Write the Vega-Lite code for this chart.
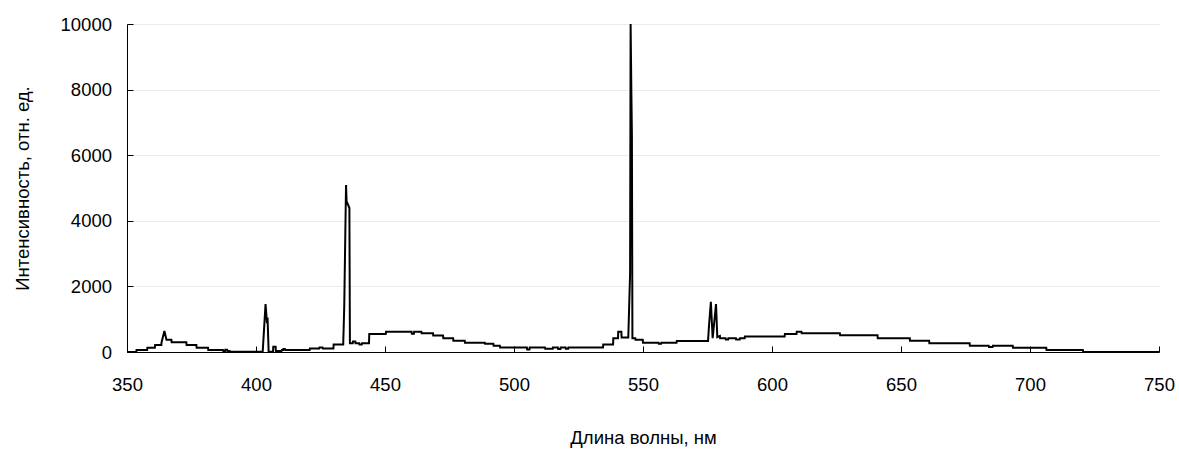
{
  "$schema": "https://vega.github.io/schema/vega-lite/v6.json",
  "autosize": {"type": "none"},
  "padding": {"left": 127, "top": 24, "right": 20, "bottom": 98},
  "width": 1032,
  "height": 328,
  "background": "white",
  "config": {
    "font": "Liberation Sans",
    "view": {"stroke": null},
    "axis": {
      "labelFont": "Liberation Sans",
      "titleFont": "Liberation Sans",
      "labelFontSize": 18.5,
      "titleFontSize": 18.5,
      "labelColor": "#000000",
      "titleColor": "#000000",
      "titleFontWeight": "normal",
      "domainColor": "#000000",
      "tickColor": "#000000",
      "domainWidth": 1,
      "tickWidth": 1,
      "tickSize": -6
    }
  },
  "data": {
    "values": [
      {"wl": 350, "I": 0}, {"wl": 353.6, "I": 0}, {"wl": 353.7, "I": 60},
      {"wl": 357.8, "I": 60}, {"wl": 357.9, "I": 130}, {"wl": 360.8, "I": 130},
      {"wl": 360.9, "I": 210}, {"wl": 363.3, "I": 210}, {"wl": 363.4, "I": 300},
      {"wl": 364.5, "I": 640}, {"wl": 365.3, "I": 370}, {"wl": 367.2, "I": 370},
      {"wl": 367.3, "I": 300}, {"wl": 373, "I": 300}, {"wl": 373.1, "I": 210},
      {"wl": 376.9, "I": 210}, {"wl": 377, "I": 130}, {"wl": 381.4, "I": 130},
      {"wl": 381.5, "I": 60}, {"wl": 387.2, "I": 60}, {"wl": 387.3, "I": 30},
      {"wl": 388, "I": 30}, {"wl": 388.1, "I": 70}, {"wl": 388.8, "I": 70},
      {"wl": 388.9, "I": 30}, {"wl": 389.8, "I": 30}, {"wl": 389.9, "I": 10},
      {"wl": 402.6, "I": 10}, {"wl": 403.7, "I": 1460}, {"wl": 404.2, "I": 950},
      {"wl": 404.5, "I": 980}, {"wl": 404.9, "I": 10}, {"wl": 406.6, "I": 10},
      {"wl": 406.7, "I": 160}, {"wl": 407.6, "I": 160}, {"wl": 407.7, "I": 30},
      {"wl": 409.9, "I": 30}, {"wl": 410, "I": 60}, {"wl": 410.5, "I": 60},
      {"wl": 410.6, "I": 90}, {"wl": 411.2, "I": 90}, {"wl": 411.3, "I": 60},
      {"wl": 420.8, "I": 60}, {"wl": 420.9, "I": 110}, {"wl": 424.5, "I": 110},
      {"wl": 424.6, "I": 140}, {"wl": 425.8, "I": 140}, {"wl": 425.9, "I": 110},
      {"wl": 430, "I": 110}, {"wl": 430.1, "I": 230}, {"wl": 433.8, "I": 230},
      {"wl": 434.2, "I": 1380}, {"wl": 434.9, "I": 5090}, {"wl": 435.1, "I": 4600},
      {"wl": 436.2, "I": 4390}, {"wl": 436.4, "I": 265}, {"wl": 437.5, "I": 265},
      {"wl": 437.6, "I": 320}, {"wl": 438.5, "I": 320}, {"wl": 438.6, "I": 265},
      {"wl": 440, "I": 265}, {"wl": 440.1, "I": 230}, {"wl": 441, "I": 230},
      {"wl": 441.1, "I": 265}, {"wl": 443.8, "I": 265}, {"wl": 443.9, "I": 550},
      {"wl": 450.3, "I": 550}, {"wl": 450.4, "I": 620}, {"wl": 460.3, "I": 620},
      {"wl": 460.4, "I": 560}, {"wl": 461.2, "I": 560}, {"wl": 461.3, "I": 620},
      {"wl": 464.1, "I": 620}, {"wl": 464.2, "I": 570}, {"wl": 468.6, "I": 570},
      {"wl": 468.7, "I": 500}, {"wl": 472.5, "I": 500}, {"wl": 472.6, "I": 420},
      {"wl": 476.4, "I": 420}, {"wl": 476.5, "I": 345}, {"wl": 480.9, "I": 345},
      {"wl": 481, "I": 285}, {"wl": 488.7, "I": 285}, {"wl": 488.8, "I": 250},
      {"wl": 492, "I": 250}, {"wl": 492.1, "I": 190}, {"wl": 494.5, "I": 190},
      {"wl": 494.6, "I": 140}, {"wl": 505, "I": 140}, {"wl": 505.1, "I": 80},
      {"wl": 506, "I": 80}, {"wl": 506.1, "I": 140}, {"wl": 512, "I": 140},
      {"wl": 512.1, "I": 100}, {"wl": 515, "I": 100}, {"wl": 515.1, "I": 140},
      {"wl": 517, "I": 140}, {"wl": 517.1, "I": 90}, {"wl": 518, "I": 90},
      {"wl": 518.1, "I": 140}, {"wl": 520, "I": 140}, {"wl": 520.1, "I": 100},
      {"wl": 521, "I": 100}, {"wl": 521.1, "I": 140}, {"wl": 534.5, "I": 140},
      {"wl": 534.6, "I": 230}, {"wl": 538.4, "I": 230}, {"wl": 538.5, "I": 420},
      {"wl": 540.3, "I": 420}, {"wl": 540.4, "I": 620}, {"wl": 541.6, "I": 620},
      {"wl": 541.7, "I": 440}, {"wl": 544.3, "I": 440}, {"wl": 545.0, "I": 2400},
      {"wl": 545.2, "I": 10000}, {"wl": 545.5, "I": 7850}, {"wl": 545.7, "I": 6600},
      {"wl": 545.9, "I": 420}, {"wl": 547, "I": 420}, {"wl": 547.1, "I": 370},
      {"wl": 549.9, "I": 370}, {"wl": 550, "I": 285}, {"wl": 556, "I": 285},
      {"wl": 556.1, "I": 250}, {"wl": 557, "I": 250}, {"wl": 557.1, "I": 285},
      {"wl": 563, "I": 285}, {"wl": 563.1, "I": 335}, {"wl": 575.2, "I": 335},
      {"wl": 575.6, "I": 820}, {"wl": 576.3, "I": 1530}, {"wl": 577, "I": 420},
      {"wl": 578.3, "I": 1460}, {"wl": 578.8, "I": 450}, {"wl": 579.8, "I": 490},
      {"wl": 579.9, "I": 420}, {"wl": 582, "I": 420}, {"wl": 582.1, "I": 380},
      {"wl": 583, "I": 380}, {"wl": 583.1, "I": 420}, {"wl": 586, "I": 420},
      {"wl": 586.1, "I": 380}, {"wl": 587.5, "I": 380}, {"wl": 587.6, "I": 420},
      {"wl": 589.4, "I": 420}, {"wl": 589.5, "I": 470}, {"wl": 604.9, "I": 470},
      {"wl": 605, "I": 550}, {"wl": 609.5, "I": 550}, {"wl": 609.6, "I": 620},
      {"wl": 611.4, "I": 620}, {"wl": 611.5, "I": 570}, {"wl": 626.3, "I": 570},
      {"wl": 626.4, "I": 510}, {"wl": 640.9, "I": 510}, {"wl": 641, "I": 420},
      {"wl": 653.4, "I": 420}, {"wl": 653.5, "I": 345}, {"wl": 660.9, "I": 345},
      {"wl": 661, "I": 265}, {"wl": 676.6, "I": 265}, {"wl": 676.7, "I": 190},
      {"wl": 684, "I": 190}, {"wl": 684.1, "I": 150}, {"wl": 685.5, "I": 150},
      {"wl": 685.6, "I": 190}, {"wl": 693.3, "I": 190}, {"wl": 693.4, "I": 130},
      {"wl": 706.3, "I": 130}, {"wl": 706.4, "I": 60}, {"wl": 720.5, "I": 60},
      {"wl": 720.6, "I": 10}, {"wl": 749.9, "I": 0}, {"wl": 750, "I": 0}
    ]
  },
  "mark": {"type": "line", "color": "#000000", "strokeWidth": 2, "clip": true, "interpolate": "linear"},
  "encoding": {
    "x": {
      "field": "wl",
      "type": "quantitative",
      "scale": {"domain": [350, 750], "nice": false, "zero": false},
      "axis": {
        "title": "Длина волны, нм",
        "values": [350, 400, 450, 500, 550, 600, 650, 700, 750],
        "grid": false,
        "labelPadding": 29,
        "labelFlush": false,
        "titleX": 516,
        "titleY": 85,
        "titleBaseline": "middle",
        "titleAnchor": null
      }
    },
    "y": {
      "field": "I",
      "type": "quantitative",
      "scale": {"domain": [0, 10000], "nice": false},
      "axis": {
        "title": "Интенсивность, отн. ед.",
        "values": [0, 2000, 4000, 6000, 8000, 10000],
        "grid": true,
        "gridColor": "#ebebeb",
        "gridWidth": 1,
        "labelPadding": 21.5,
        "labelFlush": false,
        "format": "d",
        "titleX": -105,
        "titleY": 164,
        "titleAngle": 270,
        "titleBaseline": "middle",
        "titleAlign": "center"
      }
    }
  }
}
